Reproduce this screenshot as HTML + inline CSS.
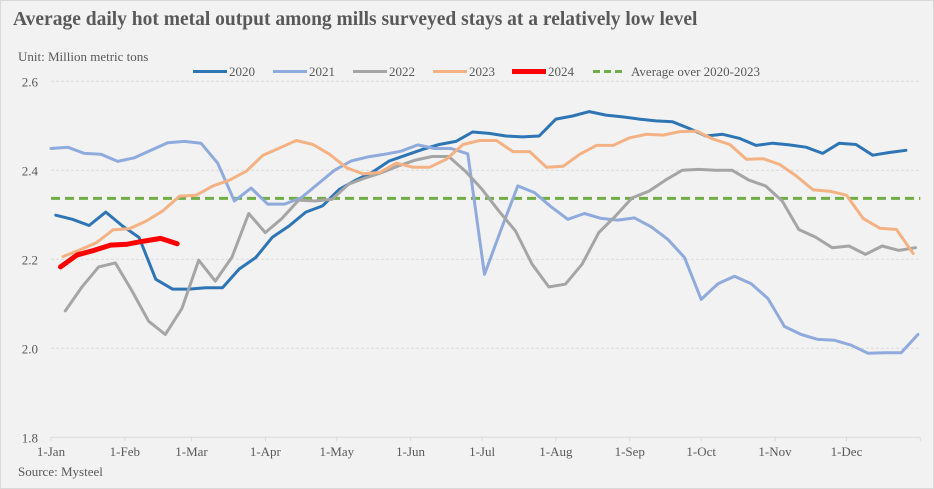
<!DOCTYPE html>
<html><head><meta charset="utf-8"><style>
body{margin:0;background:#f2f2f2;}
#wrap{position:relative;width:932px;height:487px;border:1px solid #d9d9d9;background:#f2f2f2;font-family:"Liberation Serif",serif;color:#595959;}
#title{position:absolute;left:12px;top:8px;font-size:19.5px;font-weight:bold;white-space:nowrap;}
#unit{position:absolute;left:17px;top:48px;font-size:13px;}
#source{position:absolute;left:17px;top:463px;font-size:13px;}
svg{position:absolute;left:0;top:0;}
</style></head><body>
<div id="wrap">
<div id="title">Average daily hot metal output among mills surveyed stays at a relatively low level</div>
<div id="unit">Unit: Million metric tons</div>
<div id="source">Source: Mysteel</div>
<svg id="chart" width="932" height="487"></svg>
</div>
<script>
const yTicks=[1.8,2.0,2.2,2.4,2.6];
const yTickLabels=["1.8","2.0","2.2","2.4","2.6"];
const monthLabels=["1-Jan","1-Feb","1-Mar","1-Apr","1-May","1-Jun","1-Jul","1-Aug","1-Sep","1-Oct","1-Nov","1-Dec"];
const monthDays=[0,31,59,90,120,151,181,212,243,273,304,334];
const seriesNames=["2020","2021","2022","2023","2024"];
const seriesStartDay=[2,0,6,5,4];
const v2020=[2.299,2.290,2.276,2.306,2.275,2.249,2.155,2.133,2.133,2.136,2.136,2.178,2.204,2.250,2.275,2.306,2.320,2.357,2.378,2.396,2.421,2.434,2.447,2.458,2.465,2.486,2.483,2.477,2.475,2.477,2.515,2.522,2.532,2.524,2.520,2.515,2.511,2.509,2.494,2.477,2.481,2.472,2.456,2.461,2.457,2.452,2.438,2.461,2.458,2.434,2.440,2.445];
const v2021=[2.449,2.452,2.438,2.436,2.420,2.428,2.445,2.462,2.465,2.461,2.416,2.331,2.360,2.324,2.324,2.338,2.369,2.400,2.421,2.430,2.436,2.443,2.457,2.449,2.449,2.437,2.166,2.267,2.365,2.350,2.318,2.290,2.303,2.292,2.288,2.293,2.273,2.245,2.204,2.110,2.145,2.162,2.145,2.112,2.049,2.031,2.020,2.018,2.007,1.989,1.990,1.990,2.031];
const v2022=[2.084,2.138,2.183,2.192,2.129,2.061,2.031,2.090,2.198,2.151,2.205,2.303,2.260,2.292,2.333,2.331,2.335,2.369,2.383,2.395,2.410,2.423,2.431,2.431,2.398,2.357,2.309,2.264,2.189,2.138,2.144,2.189,2.260,2.297,2.338,2.353,2.378,2.400,2.402,2.400,2.400,2.378,2.365,2.331,2.267,2.250,2.226,2.230,2.211,2.230,2.220,2.226];
const v2023=[2.206,2.221,2.237,2.266,2.269,2.286,2.309,2.342,2.344,2.365,2.378,2.398,2.434,2.450,2.467,2.458,2.436,2.406,2.392,2.395,2.416,2.407,2.407,2.425,2.458,2.467,2.467,2.442,2.442,2.407,2.409,2.436,2.456,2.456,2.473,2.481,2.479,2.487,2.488,2.470,2.458,2.425,2.426,2.413,2.387,2.356,2.353,2.344,2.292,2.270,2.267,2.213];
const v2024=[2.183,2.210,2.220,2.232,2.234,2.241,2.247,2.235];
const average=[2.337];
const seriesValues=[v2020,v2021,v2022,v2023,v2024];
const colors=["#2e75b6","#8faadc","#a5a5a5","#f4b183","#ff0000"];
const widths=[3,3,3,3,5];

const svg=document.getElementById('chart');
const NS="http://www.w3.org/2000/svg";
const X0=50,X1=919.3,Y0=436.3,Y1=80.3;
function xScale(day){return X0+(X1-X0)*day/365;}
function yScale(v){return Y0-(v-1.8)/(2.6-1.8)*(Y0-Y1);}
function mk(tag,attrs){const e=document.createElementNS(NS,tag);for(const k in attrs)e.setAttribute(k,attrs[k]);svg.appendChild(e);return e;}

yTicks.forEach((t,i)=>{
  if(i>0){const g=mk('line',{x1:X0,x2:X1,y1:yScale(t),y2:yScale(t),stroke:'#d9d9d9','stroke-width':1,'stroke-dasharray':'3,2'});
  
  }
  const l=mk('text',{x:37,y:yScale(t)+5,'text-anchor':'end','font-size':13,fill:'#595959','font-family':'Liberation Serif, serif'});
  l.textContent=yTickLabels[i];
  
  
});
const ax=mk('line',{x1:X0,x2:X1,y1:Y0,y2:Y0,stroke:'#d9d9d9','stroke-width':1});


monthDays.concat([365]).forEach(d=>{
  const tk=mk('line',{x1:xScale(d),x2:xScale(d),y1:Y0,y2:Y0+4,stroke:'#d9d9d9'});
  
  
});
monthLabels.forEach((m,i)=>{
  const l=mk('text',{x:xScale(monthDays[i]),y:455,'text-anchor':'middle','font-size':13,fill:'#595959','font-family':'Liberation Serif, serif'});
  l.textContent=m;
  
  
});
const av=mk('line',{x1:X0,x2:X1,y1:yScale(average[0]),y2:yScale(average[0]),stroke:'#70ad47','stroke-width':3,'stroke-dasharray':'9,5'});


seriesValues.forEach((vals,s)=>{
  const pts=vals.map((v,i)=>xScale(seriesStartDay[s]+7*i).toFixed(1)+','+yScale(v).toFixed(1)).join(' ');
  const p=mk('polyline',{points:pts,fill:'none',stroke:colors[s],'stroke-width':widths[s],'stroke-linejoin':'round','stroke-linecap':'round'});
  
  
});
// legend
const legX=[192,272,352,432,511];
seriesNames.forEach((n,s)=>{
  const l=mk('line',{x1:legX[s],x2:legX[s]+34,y1:70.5,y2:70.5,stroke:colors[s],'stroke-width':widths[s]});
  
  
  const t=mk('text',{x:legX[s]+36,y:75,'font-size':13,fill:'#595959','font-family':'Liberation Serif, serif'});
  t.textContent=n;
  
  
});
const la=mk('line',{x1:592,x2:624,y1:70.5,y2:70.5,stroke:'#70ad47','stroke-width':3,'stroke-dasharray':'7,4'});


const lt=mk('text',{x:630,y:75,'font-size':13,fill:'#595959','font-family':'Liberation Serif, serif'});
lt.textContent='Average over 2020-2023';


</script>
</body></html>
